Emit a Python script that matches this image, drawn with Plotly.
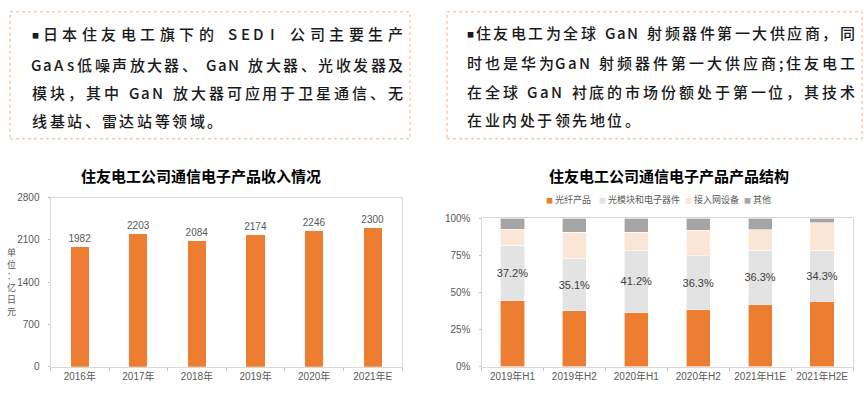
import plotly.graph_objects as go

# ---------------- data ----------------
years = ["2016年", "2017年", "2018年", "2019年", "2020年", "2021年E"]
revenue = [1982, 2203, 2084, 2174, 2246, 2300]

periods = ["2019年H1", "2019年H2", "2020年H1", "2020年H2", "2021年H1E", "2021年H2E"]
fiber = [44.8, 37.8, 36.9, 38.4, 42.2, 44.1]
module = [37.2, 35.1, 41.2, 36.3, 36.3, 34.3]
access = [10.6, 17.9, 12.5, 17.2, 13.8, 18.8]
other = [7.4, 9.2, 9.4, 8.1, 7.7, 2.8]
series_names = ["光纤产品", "光模块和电子器件", "接入网设备", "其他"]
series_colors = ["#ED7D31", "#E3E3E3", "#FBE5D6", "#A5A5A5"]
pct_ticks = [0, 25, 50, 75, 100]
pct_labels = ["0%", "25%", "50%", "75%", "100%"]
rev_ticks = [0, 700, 1400, 2100, 2800]

left_lines = [
    "■日本住友电工旗下的 SEDI 公司主要生产",
    "GaAs低噪声放大器、 GaN 放大器、光收发器及",
    "模块，其中 GaN 放大器可应用于卫星通信、无",
    "线基站、雷达站等领域。",
]
right_lines = [
    "■住友电工为全球 GaN 射频器件第一大供应商，同",
    "时也是华为GaN 射频器件第一大供应商;住友电工",
    "在全球 GaN 衬底的市场份额处于第一位，其技术",
    "在业内处于领先地位。",
]
title_left = "住友电工公司通信电子产品收入情况"
title_right = "住友电工公司通信电子产品产品结构"
unit_label = "单位：亿日元"

W, H = 864, 398
CJK = "Noto Sans CJK SC"
NUM = "Liberation Sans, Noto Sans CJK SC"
GRAY = "#595959"


def px(x):
    return x / W


def py(y):
    return 1 - y / H


def char_w(c):
    if c == " ":
        return 5
    if c == "■":
        return 6
    if c in ";:,.":
        return 5
    if ord(c) < 128:
        return 8.8
    return 15


def layout_line(s, x0, x1=None, gap=2.5):
    widths = [char_w(c) for c in s]
    if x1 is not None:
        gap = (x1 - x0 - sum(widths)) / (len(s) - 1)
    x = x0
    out = []
    for c, w in zip(s, widths):
        if c != " ":
            out.append((c, x + w / 2))
        x += w + gap
    return out


fig = go.Figure()

# left bar chart
fig.add_trace(go.Bar(
    x=years, y=revenue, xaxis="x", yaxis="y", width=0.31,
    marker=dict(color="#ED7D31", line=dict(width=0)),
    text=[str(v) for v in revenue], textposition="outside", constraintext="none",
    textfont=dict(family=NUM, size=10, color=GRAY),
    cliponaxis=False, showlegend=False,
))

# right stacked chart
stack = [fiber, module, access, other]
for name, vals, col in zip(series_names, stack, series_colors):
    kw = {}
    if name == "光模块和电子器件":
        kw = dict(text=[f"{v}%" for v in vals], textposition="inside",
                  insidetextanchor="middle", textangle=0, constraintext="none",
                  textfont=dict(family=NUM, size=11, color="#404040"))
    fig.add_trace(go.Bar(
        x=periods, y=vals, xaxis="x2", yaxis="y2", name=name, width=0.39,
        marker=dict(color=col, line=dict(color="white", width=0.6)),
        showlegend=False, **kw,
    ))

axis_common = dict(showgrid=False, zeroline=False, showline=True, mirror=True,
                   linecolor="#D9D9D9", linewidth=1,
                   tickfont=dict(family=NUM, size=10, color=GRAY))

fig.update_layout(
    width=W, height=H, margin=dict(l=0, r=0, t=0, b=0),
    paper_bgcolor="white", plot_bgcolor="white",
    barmode="stack",
    xaxis=dict(domain=[px(50.5), px(402)], anchor="y", ticks="outside", tickangle=0,
               tickson="boundaries", ticklen=3, tickcolor="#BFBFBF", **axis_common),
    yaxis=dict(domain=[py(372), py(197.5)], anchor="x", range=[0, 2800],
               tickvals=rev_ticks, ticks="outside", ticklen=2, tickcolor="#BFBFBF",
               ticklabelstandoff=6, **axis_common),
    xaxis2=dict(domain=[px(481.5), px(853)], anchor="y2", ticks="outside", tickangle=0,
                tickson="boundaries", ticklen=3, tickcolor="#BFBFBF", **axis_common),
    yaxis2=dict(domain=[py(372), py(219)], anchor="x2", range=[0, 100],
                tickvals=pct_ticks, ticktext=pct_labels, ticks="outside", ticklen=2,
                tickcolor="#BFBFBF", ticklabelstandoff=6, **axis_common),
    showlegend=False,
)

# legend (custom, tight spacing as in reference)
legend_x = [545, 598, 684, 743]
for name, col, lx in zip(series_names, series_colors, legend_x):
    fig.add_annotation(xref="paper", yref="paper", x=px(lx - 1), y=py(200),
                       xanchor="left", yanchor="middle", showarrow=False,
                       text=f"<span style='color:{col};font-size:7px'>■</span> {name}",
                       font=dict(family=CJK, size=9, color=GRAY))

# text boxes
for x0, x1 in [(10, 410), (447, 862)]:
    fig.add_shape(type="rect", xref="paper", yref="paper",
                  x0=px(x0), x1=px(x1), y0=py(137), y1=py(6),
                  line=dict(color="#F4B183", width=1, dash="dot"))

TEXT_FONT = dict(family=CJK, size=15, color="#1a1a1a", weight=500)
BULLET_FONT = dict(family=CJK, size=7, color="#1a1a1a")
for lines, x0, x1, ys in [(left_lines, 32, 403, [28, 60, 89, 118]),
                          (right_lines, 467, 855, [27, 58, 88, 117])]:
    for i, t in enumerate(lines):
        last = i == len(lines) - 1
        for c, cx in layout_line(t, x0, None if last else x1):
            bullet = c == "■"
            fig.add_annotation(xref="paper", yref="paper", x=px(cx),
                               y=py(ys[i] + (1.5 if bullet else 0)),
                               xanchor="center", yanchor="middle", showarrow=False,
                               text=c, font=BULLET_FONT if bullet else TEXT_FONT)

# chart titles
fig.add_annotation(xref="paper", yref="paper", x=px(201), y=py(175), showarrow=False,
                   xanchor="center", yanchor="middle", text=f"<b>{title_left}</b>",
                   font=dict(family=CJK, size=15, color="#000000"))
fig.add_annotation(xref="paper", yref="paper", x=px(669), y=py(175), showarrow=False,
                   xanchor="center", yanchor="middle", text=f"<b>{title_right}</b>",
                   font=dict(family=CJK, size=15, color="#000000"))

# vertical unit label, one character per row
fig.add_annotation(xref="paper", yref="paper", x=px(11), y=py(285),
                   showarrow=False, xanchor="center", yanchor="middle",
                   text="<br>".join(unit_label),
                   font=dict(family=CJK, size=9, color=GRAY))

fig.write_html("out.html", config={"displayModeBar": False},
               post_script="document.body.style.margin='0';")
